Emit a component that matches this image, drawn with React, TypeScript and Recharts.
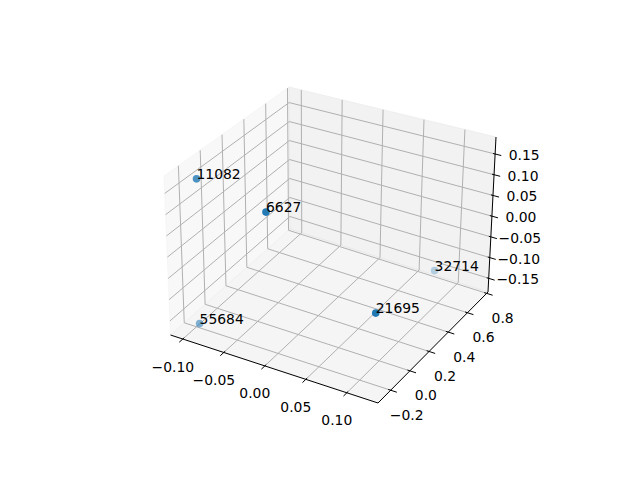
import React from "react";
import { Customized, Scatter, ScatterChart, XAxis, YAxis } from "recharts";

// labelled points (data units)
const labels = ["11082", "6627", "55684", "21695", "32714"];
const xValues = [-0.098, 0.0, -0.1, 0.126, 0.07];
const yValues = [-0.17, -0.3, -0.17, -0.265, 0.81];
const zValues = [0.163, 0.16, -0.182, -0.007, -0.171];

const xTicks = [-0.1, -0.05, 0, 0.05, 0.1];
const yTicks = [-0.2, 0, 0.2, 0.4, 0.6, 0.8];
const zTicks = [-0.15, -0.1, -0.05, 0, 0.05, 0.1, 0.15];

const xLim = [-0.115, 0.138];
const yLim = [-0.332, 0.814];
const zLim = [-0.183, 0.191];

// camera: where the eight box corners land on screen, key = x,y,z (0 lo / 1 hi)
const boxCorners: Record<string, [number, number]> = {
  "000": [170.5, 335],
  "100": [378, 403],
  "110": [488, 292],
  "010": [290, 229],
  "001": [164, 176],
  "101": [380.5, 231],
  "011": [289, 87],
  "111": [496, 137],
};

const W = 640;
const H = 480;
const FONT = "DejaVu Sans, sans-serif";
const BLUE = "#1f77b4";

const frac = (val: number, lim: number[]) => (val - lim[0]) / (lim[1] - lim[0]);

function projectUVW(u: number, v: number, w: number): [number, number] {
  let sx = 0;
  let sy = 0;
  for (const i of [0, 1])
    for (const j of [0, 1])
      for (const k of [0, 1]) {
        const wt = (i ? u : 1 - u) * (j ? v : 1 - v) * (k ? w : 1 - w);
        const c = boxCorners[`${i}${j}${k}`];
        sx += wt * c[0];
        sy += wt * c[1];
      }
  return [sx, sy];
}

const project = (x: number, y: number, z: number) =>
  projectUVW(frac(x, xLim), frac(y, yLim), frac(z, zLim));

// depth for matplotlib-style depth shading (elev 30, azim -60, aspect 4:4:3)
const depth = (x: number, y: number, z: number) =>
  1.732 * frac(x, xLim) - 3 * frac(y, yLim) + 1.5 * frac(z, zLim);

const depths = labels.map((_, i) => depth(xValues[i], yValues[i], zValues[i]));
const dMax = Math.max(...depths);
const dMin = Math.min(...depths);

const points = labels.map((label, i) => {
  const [sx, sy] = project(xValues[i], yValues[i], zValues[i]);
  return {
    label,
    sx,
    sy,
    alpha: 1 - (0.7 * (dMax - depths[i])) / (dMax - dMin),
  };
});

const fmt = (t: number, digits: number) => {
  const s = Math.abs(t).toFixed(digits);
  return t < -1e-9 ? `\u2212${s}` : s;
};

type Pt = [number, number];
const seg = (a: Pt, b: Pt, key: string, stroke: string, width: number) => (
  <line key={key} x1={a[0]} y1={a[1]} x2={b[0]} y2={b[1]} stroke={stroke} strokeWidth={width} />
);
const poly = (pts: Pt[]) => pts.map((p) => p.join(",")).join(" ");

function Box3D() {
  const c = boxCorners;
  const grid = "#b0b0b0";
  const [x0, x1] = xLim;
  const [y0, y1] = yLim;
  const [z0, z1] = zLim;
  const textStyle = { fontFamily: FONT, fontSize: 13.9, fill: "#000" };

  return (
    <g>
      {/* panes */}
      <polygon
        points={poly([c["000"], c["100"], c["110"], c["010"]])}
        fill="rgb(236,236,236)"
        fillOpacity={0.5}
        stroke="rgb(236,236,236)"
        strokeOpacity={0.5}
      />
      <polygon
        points={poly([c["000"], c["010"], c["011"], c["001"]])}
        fill="rgb(242,242,242)"
        fillOpacity={0.5}
        stroke="rgb(242,242,242)"
        strokeOpacity={0.5}
      />
      <polygon
        points={poly([c["010"], c["110"], c["111"], c["011"]])}
        fill="rgb(230,230,230)"
        fillOpacity={0.5}
        stroke="rgb(230,230,230)"
        strokeOpacity={0.5}
      />

      {/* grid */}
      {xTicks.map((t) => (
        <g key={`gx${t}`}>
          {seg(project(t, y0, z0), project(t, y1, z0), "f", grid, 1)}
          {seg(project(t, y1, z0), project(t, y1, z1), "b", grid, 1)}
        </g>
      ))}
      {yTicks.map((t) => (
        <g key={`gy${t}`}>
          {seg(project(x0, t, z0), project(x1, t, z0), "f", grid, 1)}
          {seg(project(x0, t, z0), project(x0, t, z1), "l", grid, 1)}
        </g>
      ))}
      {zTicks.map((t) => (
        <g key={`gz${t}`}>
          {seg(project(x0, y0, t), project(x0, y1, t), "l", grid, 1)}
          {seg(project(x0, y1, t), project(x1, y1, t), "b", grid, 1)}
        </g>
      ))}

      {/* axis lines */}
      {seg(c["000"], c["100"], "ax", "#000", 1)}
      {seg(c["100"], c["110"], "ay", "#000", 1)}
      {seg(c["110"], c["111"], "az", "#000", 1)}

      {/* ticks and labels */}
      {xTicks.map((t) => {
        const u = frac(t, xLim);
        const p = projectUVW(u, 0, 0);
        return (
          <g key={`tx${t}`}>
            {seg(projectUVW(u, 0.012, 0), projectUVW(u, -0.03, 0), "t", "#000", 1)}
            <text x={p[0] - 10} y={p[1] + 27.5} textAnchor="middle" dominantBaseline="central" style={textStyle}>
              {fmt(t, 2)}
            </text>
          </g>
        );
      })}
      {yTicks.map((t) => {
        const v = frac(t, yLim);
        const p = projectUVW(1, v, 0);
        return (
          <g key={`ty${t}`}>
            {seg(projectUVW(0.988, v, 0), projectUVW(1.03, v, 0), "t", "#000", 1)}
            <text x={p[0] + 16} y={p[1] + 24.5} textAnchor="middle" dominantBaseline="central" style={textStyle}>
              {fmt(t, 1)}
            </text>
          </g>
        );
      })}
      {zTicks.map((t) => {
        const w = frac(t, zLim);
        const p = projectUVW(1, 1, w);
        return (
          <g key={`tz${t}`}>
            {seg(projectUVW(0.99, 1, w), projectUVW(1.03, 1, w), "t", "#000", 1)}
            <text x={p[0] + 29} y={p[1] + 1} textAnchor="middle" dominantBaseline="central" style={textStyle}>
              {fmt(t, 2)}
            </text>
          </g>
        );
      })}
    </g>
  );
}

function renderPoint(props: any) {
  const { cx, cy, payload } = props;
  return (
    <g>
      <circle cx={cx} cy={cy} r={3.8} fill={BLUE} fillOpacity={payload.alpha} />
      <text x={cx} y={cy} style={{ fontFamily: FONT, fontSize: 13.9, fill: "#000" }}>
        {payload.label}
      </text>
    </g>
  );
}

export default function App() {
  return (
    <div style={{ position: "absolute", left: 0, top: 0, width: W, height: H, background: "#fff" }}>
      <ScatterChart width={W} height={H} margin={{ top: 0, right: 0, bottom: 0, left: 0 }}>
        <XAxis type="number" dataKey="sx" domain={[0, W]} hide allowDataOverflow />
        <YAxis type="number" dataKey="sy" domain={[0, H]} reversed hide allowDataOverflow />
        <Customized component={<Box3D />} />
        <Scatter data={points} shape={renderPoint} isAnimationActive={false} />
      </ScatterChart>
    </div>
  );
}
